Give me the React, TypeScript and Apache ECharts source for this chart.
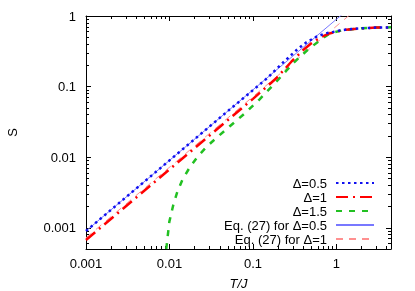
import React, { useEffect, useRef } from 'react';
import * as echarts from 'echarts';

// Δ=0.5 (blue dotted)
const T_D05 = [0.001, 0.002, 0.005, 0.01, 0.02, 0.05, 0.1, 0.147, 0.235, 0.34, 0.437, 0.577, 0.7, 0.8, 0.91, 1.1, 1.5, 2, 3, 4.5];
const S_D05 = [0.0009, 0.0018, 0.0045, 0.009, 0.018, 0.045, 0.089, 0.131, 0.225, 0.337, 0.424, 0.509, 0.555, 0.578, 0.595, 0.625, 0.655, 0.67, 0.685, 0.69];
// Δ=1 (red dash-dot)
const T_D1 = [0.001, 0.01, 0.1, 0.19, 0.288, 0.4, 0.5, 0.63, 0.8, 1, 1.3, 2, 3, 4.5];
const S_D1 = [0.00067, 0.0067, 0.067, 0.131, 0.225, 0.33, 0.41, 0.49, 0.56, 0.6, 0.64, 0.67, 0.685, 0.69];
// Δ=1.5 (green dashed)
const T_D15 = [0.00915, 0.00995, 0.0111, 0.0124, 0.01425, 0.0173, 0.0216, 0.0277, 0.0365, 0.0524, 0.0793, 0.12, 0.199, 0.251, 0.316, 0.45, 0.63, 0.834, 1.2, 2, 3, 4.5];
const S_D15 = [0.0005, 0.00121, 0.0021, 0.00321, 0.00475, 0.00703, 0.0101, 0.01395, 0.0188, 0.0272, 0.0415, 0.066, 0.124, 0.168, 0.225, 0.33, 0.45, 0.569, 0.63, 0.67, 0.685, 0.69];
// Eq. (27) straight lines
const T_EQ = [0.001, 2];
const S_EQ05 = [0.0009, 1.8];
const S_EQ1 = [0.00072, 1.44];

const X_MAJOR = [0.001, 0.01, 0.1, 1];
const X_MINOR = [0.002, 0.003, 0.004, 0.005, 0.006, 0.007, 0.008, 0.009, 0.02, 0.03, 0.04, 0.05, 0.06, 0.07, 0.08, 0.09, 0.2, 0.3, 0.4, 0.5, 0.6, 0.7, 0.8, 0.9, 2, 3, 4];
const Y_MAJOR = [0.001, 0.01, 0.1, 1];
const Y_MINOR = [0.0006, 0.0007, 0.0008, 0.0009, 0.002, 0.003, 0.004, 0.005, 0.006, 0.007, 0.008, 0.009, 0.02, 0.03, 0.04, 0.05, 0.06, 0.07, 0.08, 0.09, 0.2, 0.3, 0.4, 0.5, 0.6, 0.7, 0.8, 0.9];
const TICK_LABELS = ['0.001', '0.01', '0.1', '1'];

const NAMES = ['Δ=0.5', 'Δ=1', 'Δ=1.5', 'Eq. (27) for Δ=0.5', 'Eq. (27) for Δ=1'];

const FONT = 'Liberation Sans, Arial, sans-serif';

function zip(a: number[], b: number[]) {
  return a.map((v, i) => [v, b[i]]);
}

function fmt(v: number) {
  const i = X_MAJOR.findIndex((m) => Math.abs(m - v) / m < 1e-6);
  return i >= 0 ? TICK_LABELS[i] : '';
}

export default function App() {
  const ref = useRef<HTMLDivElement>(null);
  useEffect(() => {
    const chart = echarts.init(ref.current!, null, { renderer: 'svg' });
    const XMIN = 0.001, XMAX = 4.5, YMIN = 0.0005, YMAX = 1;
    const axisBase = (dim: 'x' | 'y', pos: string, major: boolean, label: boolean, line: boolean) => ({
      type: 'log',
      logBase: 10,
      min: dim === 'x' ? XMIN : YMIN,
      max: dim === 'x' ? XMAX : YMAX,
      position: pos,
      gridIndex: 0,
      axisLine: { show: line, onZero: false, lineStyle: { color: '#000', width: 1 } },
      axisTick: {
        show: true,
        inside: true,
        length: major ? 5 : 3,
        customValues: major ? (dim === 'x' ? X_MAJOR : Y_MAJOR) : (dim === 'x' ? X_MINOR : Y_MINOR),
        lineStyle: { color: '#000', width: 1 },
      },
      axisLabel: label
        ? {
            show: true,
            customValues: dim === 'x' ? X_MAJOR : Y_MAJOR,
            formatter: (v: number) => fmt(v),
            fontSize: 13,
            fontFamily: FONT,
            color: '#000',
            margin: dim === 'x' ? 8 : 10,
          }
        : { show: false },
      splitLine: { show: false },
      minorTick: { show: false },
      minorSplitLine: { show: false },
    });

    const legendTops = [176, 190, 204, 218, 232];
    const legends = NAMES.map((n, i) => ({
      data: [n],
      orient: 'vertical',
      right: 40,
      top: legendTops[i],
      align: 'right',
      itemWidth: 38,
      itemHeight: 14,
      padding: 0,
      itemGap: 0,
      selectedMode: false,
      itemStyle: { color: 'rgba(0,0,0,0)', borderWidth: 0, opacity: 0 },
      textStyle: { fontSize: 13, fontFamily: FONT, color: '#000', padding: [0, 4, 0, 0], lineHeight: 14 },
    }));

    const mk = (name: string, data: number[][], color: string, width: number, type: any, z: number) => ({
      name,
      type: 'line',
      data,
      xAxisIndex: 0,
      yAxisIndex: 0,
      showSymbol: false,
      symbol: 'none',
      smooth: false,
      clip: true,
      z,
      lineStyle: { color, width, type, cap: 'butt' },
      itemStyle: { color },
    });

    chart.setOption({
      animation: false,
      grid: { left: 86, right: 24, top: 16, bottom: 42, outerBoundsMode: 'none', containLabel: false },
      xAxis: [
        {
          ...axisBase('x', 'bottom', true, true, true),
          name: 'T/J',
          nameLocation: 'middle',
          nameGap: 28,
          nameTextStyle: { fontSize: 13, fontFamily: FONT, fontStyle: 'italic', color: '#000' },
        },
        axisBase('x', 'bottom', false, false, false),
        axisBase('x', 'top', true, false, true),
        axisBase('x', 'top', false, false, false),
      ],
      yAxis: [
        {
          ...axisBase('y', 'left', true, true, true),
          name: 'S',
          nameLocation: 'middle',
          nameGap: 67,
          nameTextStyle: { fontSize: 13, fontFamily: FONT, color: '#000' },
        },
        axisBase('y', 'left', false, false, false),
        axisBase('y', 'right', true, false, true),
        axisBase('y', 'right', false, false, false),
      ],
      legend: legends,
      series: [
        mk(NAMES[3], zip(T_EQ, S_EQ05), '#7878ff', 1, 'solid', 2),
        mk(NAMES[4], zip(T_EQ, S_EQ1), '#ff9090', 1, [7, 6], 2),
        mk(NAMES[0], zip(T_D05, S_D05), '#1010f0', 2.5, [2.5, 3.5], 5),
        mk(NAMES[1], zip(T_D1, S_D1), '#ff0000', 2.5, [12, 5, 2, 5], 4),
        mk(NAMES[2], zip(T_D15, S_D15), '#22c022', 2.5, [6, 7], 3),
      ],
    });
    return () => chart.dispose();
  }, []);
  return <div ref={ref} style={{ position: 'fixed', left: 0, top: 0, width: 415, height: 291 }} />;
}
